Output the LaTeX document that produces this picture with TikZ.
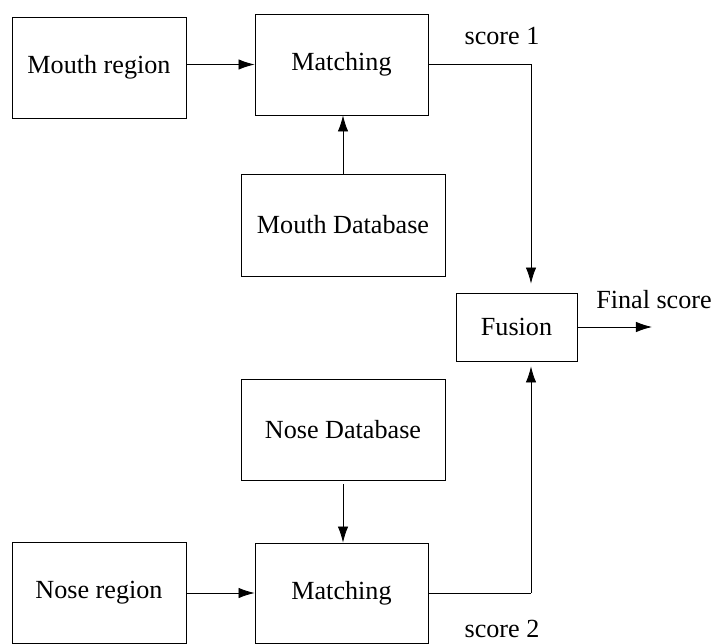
\documentclass[tikz,border=0pt]{standalone}
\usepackage{fontspec}
\setmainfont{Liberation Serif}
\usetikzlibrary{arrows.meta}
\tikzset{
	blk/.style={draw, line width=0.6pt, inner sep=0pt, font=\fontsize{18.6}{20}\selectfont},
	lbl/.style={inner sep=0pt, font=\fontsize{18.6}{20}\selectfont},
	arr/.style={line width=0.6pt, -{Latex[length=4mm,width=2.6mm]}},
	ln/.style={line width=0.6pt}
}

\begin{document}
\begin{tikzpicture}[x=0.025cm, y=-0.025cm]
			%%%%% START %%%%%
			\useasboundingbox (0, 0) rectangle (713, 644);
			
			\node[blk, minimum width=174*0.025cm, minimum height=101*0.025cm] (mouth) at (99, 67.5) {Mouth region};
			\node[blk, minimum width=173*0.025cm, minimum height=101*0.025cm] (match1) at (341.5, 64.5) {Matching};
			\node[blk, minimum width=204*0.025cm, minimum height=102*0.025cm] (mouthdb) at (343, 225) {Mouth Database};
			
			\node[blk, minimum width=121*0.025cm, minimum height=68*0.025cm] (fusion) at (516.5, 327) {Fusion};
			
			\node[blk, minimum width=204*0.025cm, minimum height=101*0.025cm] (nosedb) at (343, 429.5) {Nose Database};
			\node[blk, minimum width=174*0.025cm, minimum height=101*0.025cm] (nose) at (99, 592.5) {Nose region};
			\node[blk, minimum width=173*0.025cm, minimum height=100*0.025cm] (match2) at (341.5, 593) {Matching};
			
			\coordinate (c1) at (531, 64.5);
			\coordinate (c2) at (531, 593);
			\coordinate (fin) at (652, 327);
			
			\node[lbl] (s1) at (502, 36) {score 1};
			\node[lbl] (s2) at (502, 629) {score 2};
			\node[lbl] (fs) at (654, 300) {Final score};
			
			\draw[arr] (mouth.east |- match1) -- (match1.west);
			\draw[arr] (mouthdb.north) -- (mouthdb.north |- match1.south);
			\draw[ln] (match1.east) -- (c1);
			\draw[arr, shorten >=9*0.025cm] (c1) -- (c1 |- fusion.north);
			
			\draw[arr, shorten <=4*0.025cm] (nosedb.south) -- (nosedb.south |- match2.north);
			\draw[arr] (nose.east |- match2) -- (match2.west);
			\draw[ln] (match2.east) -- (c2);
			\draw[arr, shorten >=5*0.025cm] (c2) -- (c2 |- fusion.south);
			
			\draw[arr] (fusion.east) -- (fin);
			%%%%% END %%%%%
\end{tikzpicture}
\end{document}
